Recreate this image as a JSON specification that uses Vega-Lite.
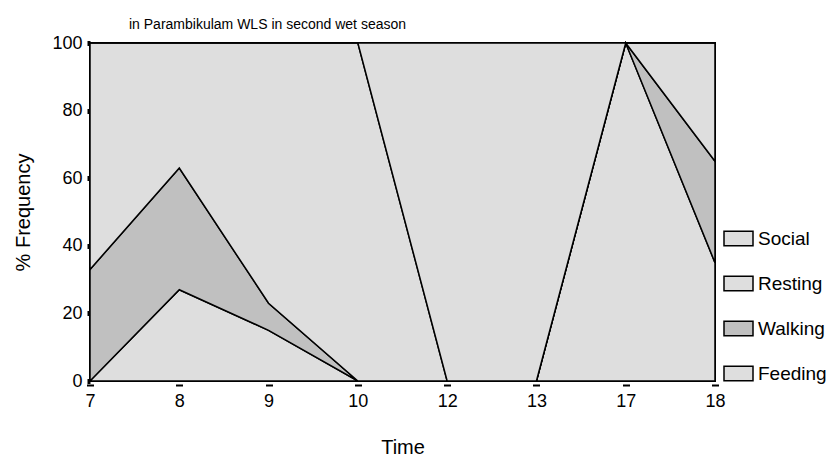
{
  "$schema": "https://vega.github.io/schema/vega-lite/v6.json",
  "width": 625,
  "height": 338,
  "autosize": {"type": "none"},
  "padding": {"left": 90, "top": 43, "right": 123, "bottom": 79},
  "background": "white",
  "title": {
    "text": "in Parambikulam WLS in second wet season",
    "anchor": "start",
    "frame": "group",
    "dx": 39,
    "dy": 27,
    "offset": 18,
    "baseline": "alphabetic",
    "fontSize": 14,
    "fontWeight": "normal",
    "font": "Liberation Sans",
    "color": "black"
  },
  "config": {
    "view": {"stroke": "black", "strokeWidth": 2},
    "font": "Liberation Sans"
  },
  "data": {
    "values": [
      {"Time": 7, "Activity": "Feeding", "ord": 1, "Value": 0},
      {"Time": 7, "Activity": "Walking", "ord": 2, "Value": 33},
      {"Time": 7, "Activity": "Resting", "ord": 3, "Value": 67},
      {"Time": 7, "Activity": "Social", "ord": 4, "Value": 0},
      {"Time": 8, "Activity": "Feeding", "ord": 1, "Value": 27},
      {"Time": 8, "Activity": "Walking", "ord": 2, "Value": 36},
      {"Time": 8, "Activity": "Resting", "ord": 3, "Value": 37},
      {"Time": 8, "Activity": "Social", "ord": 4, "Value": 0},
      {"Time": 9, "Activity": "Feeding", "ord": 1, "Value": 15},
      {"Time": 9, "Activity": "Walking", "ord": 2, "Value": 8},
      {"Time": 9, "Activity": "Resting", "ord": 3, "Value": 77},
      {"Time": 9, "Activity": "Social", "ord": 4, "Value": 0},
      {"Time": 10, "Activity": "Feeding", "ord": 1, "Value": 0},
      {"Time": 10, "Activity": "Walking", "ord": 2, "Value": 0},
      {"Time": 10, "Activity": "Resting", "ord": 3, "Value": 100},
      {"Time": 10, "Activity": "Social", "ord": 4, "Value": 0},
      {"Time": 12, "Activity": "Feeding", "ord": 1, "Value": 0},
      {"Time": 12, "Activity": "Walking", "ord": 2, "Value": 0},
      {"Time": 12, "Activity": "Resting", "ord": 3, "Value": 0},
      {"Time": 12, "Activity": "Social", "ord": 4, "Value": 100},
      {"Time": 13, "Activity": "Feeding", "ord": 1, "Value": 0},
      {"Time": 13, "Activity": "Walking", "ord": 2, "Value": 0},
      {"Time": 13, "Activity": "Resting", "ord": 3, "Value": 0},
      {"Time": 13, "Activity": "Social", "ord": 4, "Value": 100},
      {"Time": 17, "Activity": "Feeding", "ord": 1, "Value": 100},
      {"Time": 17, "Activity": "Walking", "ord": 2, "Value": 0},
      {"Time": 17, "Activity": "Resting", "ord": 3, "Value": 0},
      {"Time": 17, "Activity": "Social", "ord": 4, "Value": 0},
      {"Time": 18, "Activity": "Feeding", "ord": 1, "Value": 35},
      {"Time": 18, "Activity": "Walking", "ord": 2, "Value": 30},
      {"Time": 18, "Activity": "Resting", "ord": 3, "Value": 35},
      {"Time": 18, "Activity": "Social", "ord": 4, "Value": 0}
    ]
  },
  "mark": {"type": "area", "stroke": "black", "strokeWidth": 1.5, "interpolate": "linear", "fillOpacity": 1},
  "encoding": {
    "x": {
      "field": "Time",
      "type": "ordinal",
      "scale": {"type": "point", "padding": 0},
      "axis": {
        "title": "Time",
        "labelAngle": 0,
        "domain": false,
        "tickColor": "black",
        "tickSize": 5,
        "tickWidth": 7,
        "tickCap": "butt",
        "tickDash": [0, 3, 2, 10],
        "labelPadding": 6,
        "labelFontSize": 18,
        "labelColor": "black",
        "titleFontSize": 20,
        "titleFontWeight": "normal",
        "titleColor": "black",
        "titlePadding": 27
      }
    },
    "y": {
      "field": "Value",
      "type": "quantitative",
      "stack": "zero",
      "scale": {"domain": [0, 100], "nice": false},
      "axis": {
        "title": "% Frequency",
        "values": [0, 20, 40, 60, 80, 100],
        "grid": false,
        "domain": false,
        "tickColor": "black",
        "tickSize": 3,
        "tickWidth": 5,
        "tickCap": "butt",
        "labelPadding": 5,
        "labelFontSize": 18,
        "labelColor": "black",
        "titleFontSize": 20,
        "titleFontWeight": "normal",
        "titleColor": "black",
        "titlePadding": 18
      }
    },
    "color": {
      "field": "Activity",
      "type": "nominal",
      "scale": {
        "domain": ["Social", "Resting", "Walking", "Feeding"],
        "range": ["#dedede", "#dedede", "#c0c0c0", "#dedede"]
      },
      "legend": {
        "title": null,
        "orient": "none",
        "legendX": 633,
        "legendY": 180,
        "padding": 0,
        "symbolType": "M-1,-0.5H1V0.5H-1Z",
        "symbolSize": 841,
        "symbolStrokeColor": "black",
        "symbolStrokeWidth": 1.5,
        "symbolOpacity": 1,
        "labelFontSize": 19,
        "labelColor": "black",
        "labelOffset": 4,
        "rowPadding": 19
      }
    },
    "order": {"field": "ord", "type": "quantitative"}
  }
}
